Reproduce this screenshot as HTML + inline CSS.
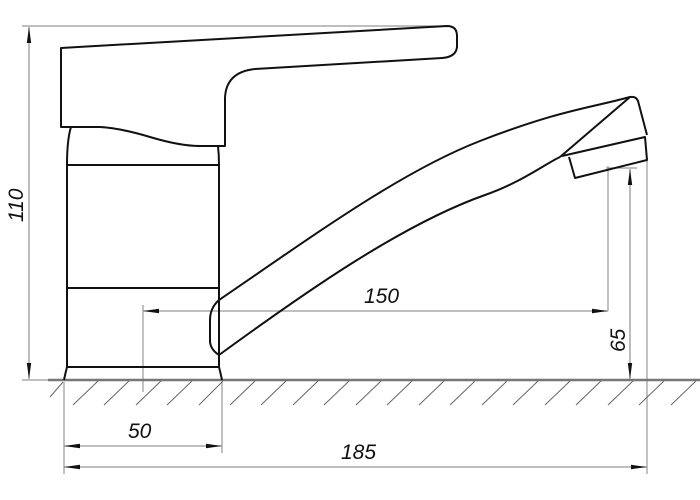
<!DOCTYPE html>
<html><head><meta charset="utf-8"><style>
html,body{margin:0;padding:0;background:#fff;width:700px;height:500px;overflow:hidden}
text{font-family:"Liberation Sans",sans-serif;font-style:italic;font-size:21px;fill:#111}
</style></head><body>
<svg width="700" height="500" viewBox="0 0 700 500" xmlns="http://www.w3.org/2000/svg">
<defs>
<marker id="a" viewBox="0 0 16 6" refX="16" refY="3" markerWidth="16" markerHeight="6" orient="auto-start-reverse" markerUnits="userSpaceOnUse"><path d="M0,0.8 L16,3 L0,5.2 z" fill="#111"/></marker>
</defs>
<g stroke="#999" stroke-width="1.2" fill="none">
<line x1="22" y1="26" x2="447" y2="26"/>
<line x1="22" y1="380" x2="60" y2="380"/>
<line x1="143" y1="305" x2="143" y2="392"/>
<line x1="608" y1="166" x2="608" y2="311"/>
<line x1="606" y1="168" x2="637" y2="168"/>
<line x1="647" y1="158" x2="647" y2="474"/>
<line x1="64" y1="382" x2="64" y2="474"/>
<line x1="222" y1="382" x2="222" y2="453"/>
</g>
<g stroke="#999" stroke-width="1.3" fill="none">
<line x1="29" y1="27" x2="29" y2="379" marker-start="url(#a)" marker-end="url(#a)"/>
<line x1="143" y1="311" x2="608" y2="311" marker-start="url(#a)" marker-end="url(#a)"/>
<line x1="630" y1="169" x2="630" y2="379" marker-start="url(#a)" marker-end="url(#a)"/>
<line x1="64" y1="446" x2="222" y2="446" marker-start="url(#a)" marker-end="url(#a)"/>
<line x1="64" y1="467" x2="647" y2="467" marker-start="url(#a)" marker-end="url(#a)"/>
</g>
<line x1="48" y1="380" x2="700" y2="380" stroke="#777" stroke-width="2.5"/>
<g stroke="#666" stroke-width="1">
<line x1="50" y1="397" x2="63" y2="382"/>
<line x1="73" y1="405" x2="98" y2="381"/>
<line x1="104" y1="405" x2="129" y2="381"/>
<line x1="136" y1="405" x2="161" y2="381"/>
<line x1="167" y1="405" x2="192" y2="381"/>
<line x1="199" y1="405" x2="223" y2="381"/>
<line x1="230" y1="405" x2="255" y2="381"/>
<line x1="261" y1="405" x2="286" y2="381"/>
<line x1="293" y1="405" x2="318" y2="381"/>
<line x1="324" y1="405" x2="349" y2="381"/>
<line x1="356" y1="405" x2="381" y2="381"/>
<line x1="387" y1="405" x2="412" y2="381"/>
<line x1="419" y1="405" x2="444" y2="381"/>
<line x1="450" y1="405" x2="475" y2="381"/>
<line x1="482" y1="405" x2="507" y2="381"/>
<line x1="513" y1="405" x2="538" y2="381"/>
<line x1="545" y1="405" x2="570" y2="381"/>
<line x1="576" y1="405" x2="601" y2="381"/>
<line x1="608" y1="405" x2="633" y2="381"/>
<line x1="639" y1="405" x2="664" y2="381"/>
<line x1="671" y1="405" x2="696" y2="381"/>
</g>
<g stroke="#111" stroke-width="2" fill="none" stroke-linejoin="round">
<path d="M61,48 L447,26 Q457,26 457,36 L457,47 Q456,57 442,58 L255,69 Q226,72 225,98 L225,146 L200,146 Q180,146 150,137 Q120,128 100,127 L61,127 Z"/>
<path d="M71,127 Q67,140 67,165 L67,367 Q65,375 64,380"/>
<path d="M218,146 Q219,155 219,165 L219,367 Q221,375 222,380"/>
<line x1="67" y1="165" x2="219" y2="165"/>
<line x1="67" y1="288" x2="219" y2="288"/>
<line x1="67" y1="367" x2="219" y2="367"/>
<path d="M219,300 C310,238 400,172 480,141 S590,108 630,97 Q636,96 638,101 L647,135"/>
<path d="M219,355 C300,296 400,225 485,195 C520,183 545,164 560,157"/>
<line x1="560" y1="157" x2="630" y2="97"/>
<path d="M562,156 L645,137 L647,160 L575,178 L569,157"/>
<path d="M219,300 Q210,308 210,320 L210,342 Q211,350 219,355"/>
</g>
<text x="0" y="0" transform="translate(23,222) rotate(-90)">110</text>
<text x="364" y="303">150</text>
<text x="0" y="0" transform="translate(625,352) rotate(-90)">65</text>
<text x="128" y="438">50</text>
<text x="341" y="459">185</text>
</svg>
</body></html>
